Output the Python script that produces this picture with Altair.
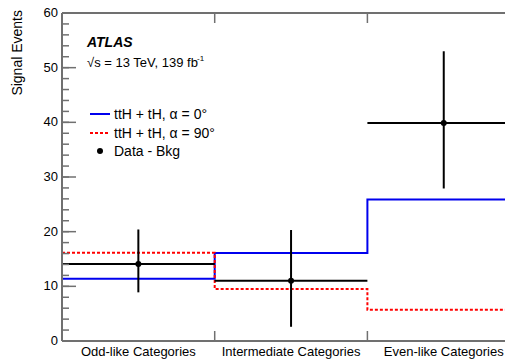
import altair as alt
import pandas as pd

# ---------------- data ----------------
categories = ["Odd-like Categories", "Intermediate Categories", "Even-like Categories"]
alpha0 = [11.4, 16.1, 25.9]      # ttH + tH, alpha = 0 deg
alpha90 = [16.15, 9.5, 5.7]      # ttH + tH, alpha = 90 deg
data_val = [14.1, 11.0, 39.9]    # Data - Bkg
data_lo = [8.9, 2.6, 27.9]
data_hi = [20.4, 20.3, 53.0]
y_ticks = list(range(0, 61, 10))

# ---------------- layout / style ----------------
W, H = 443, 328
BIN_PX = 152.7
XMAX = W / BIN_PX
FRAME = "#707070"
FONT = "Liberation Sans"

n = len(categories)
edges = list(range(n + 1))

step0 = pd.DataFrame({"edge": edges, "value": alpha0 + [alpha0[-1]]})
step90 = pd.DataFrame({"edge": edges, "value": alpha90 + [alpha90[-1]]})
pts = pd.DataFrame({
    "cat": categories,
    "left": list(range(n)),
    "right": [i + 1 for i in range(n)],
    "center": [i + 0.5 for i in range(n)],
    "val": data_val,
    "lo": data_lo,
    "hi": data_hi,
})
inner_edges = pd.DataFrame({"edge": edges[1:-1]})
minor = pd.DataFrame({"v": list(range(0, 61, 2))})
major = pd.DataFrame({"v": y_ticks, "lab": [str(v) for v in y_ticks]})
one = pd.DataFrame({"a": [0]})

xs = alt.Scale(domain=[0, XMAX], nice=False, zero=False)
ys = alt.Scale(domain=[0, 60], nice=False, zero=False)


def X(f):
    return alt.X(f, scale=xs, axis=None)


def Y(f):
    return alt.Y(f, scale=ys, axis=None)


blue = alt.Chart(step0).mark_line(interpolate="step-after", color="#0000ee",
                                  strokeWidth=2, clip=True).encode(
    x=X("edge:Q"), y=Y("value:Q"))
red = alt.Chart(step90).mark_line(interpolate="step-after", color="#ff0000",
                                  strokeWidth=2, strokeDash=[3, 2], clip=True).encode(
    x=X("edge:Q"), y=Y("value:Q"))
hbar = alt.Chart(pts).mark_rule(color="black", strokeWidth=2, clip=True).encode(
    x=X("left:Q"), x2="right:Q", y=Y("val:Q"))
vbar = alt.Chart(pts).mark_rule(color="black", strokeWidth=2, clip=True).encode(
    x=X("center:Q"), y=Y("lo:Q"), y2="hi:Q")
dots = alt.Chart(pts).mark_point(filled=True, color="black", size=36, opacity=1).encode(
    x=X("center:Q"), y=Y("val:Q"))

# frame: axis lines, inward ticks, labels, title
left_line = alt.Chart(one).mark_rule(color=FRAME, strokeWidth=2).encode(
    x=alt.value(0), y=alt.value(0), y2=alt.value(H))
bottom_line = alt.Chart(one).mark_rule(color=FRAME, strokeWidth=2).encode(
    x=alt.value(0), x2=alt.value(W), y=alt.value(H))
top_line = alt.Chart(one).mark_rule(color=FRAME, strokeWidth=2).encode(
    x=alt.value(0), x2=alt.value(W), y=alt.value(0))
tick_major_l = alt.Chart(major).mark_rule(color=FRAME, strokeWidth=1.5).encode(
    y=Y("v:Q"), x=alt.value(0), x2=alt.value(14))
tick_minor_l = alt.Chart(minor).mark_rule(color=FRAME, strokeWidth=1.5).encode(
    y=Y("v:Q"), x=alt.value(0), x2=alt.value(7))
tick_top = alt.Chart(inner_edges).mark_rule(color=FRAME, strokeWidth=1.5).encode(
    x=X("edge:Q"), y=alt.value(0), y2=alt.value(10))
tick_bot = alt.Chart(inner_edges).mark_rule(color=FRAME, strokeWidth=1.5).encode(
    x=X("edge:Q"), y=alt.value(H - 10), y2=alt.value(H))
y_labels = alt.Chart(major).mark_text(align="right", baseline="middle", fontSize=13,
                                      font=FONT, color="black").encode(
    y=Y("v:Q"), x=alt.value(-4), text="lab:N")
x_labels = alt.Chart(pts).mark_text(align="center", baseline="alphabetic", fontSize=13,
                                    font=FONT, color="black").encode(
    x=X("center:Q"), y=alt.value(H + 15), text="cat:N")
y_title = alt.Chart(pd.DataFrame({"t": ["Signal Events"]})).mark_text(
    align="right", baseline="alphabetic", angle=270, fontSize=14, font=FONT,
    color="black").encode(x=alt.value(-40), y=alt.value(-3), text="t:N")


# annotations
def txt(s, x, y, size, **kw):
    return alt.Chart(pd.DataFrame({"t": [s]})).mark_text(
        align="left", baseline="alphabetic", fontSize=size, font=FONT,
        color="black", **kw).encode(x=alt.value(x), y=alt.value(y), text="t:N")


atlas = txt("ATLAS", 25, 34, 14, fontStyle="italic", fontWeight="bold")
energy = txt("\u221as = 13 TeV, 139 fb", 25, 54, 13)
sup = txt("-1", 135, 48, 8)

leg_blue = alt.Chart(one).mark_rule(color="#0000ee", strokeWidth=2).encode(
    x=alt.value(28), x2=alt.value(48), y=alt.value(101))
leg_red = alt.Chart(one).mark_rule(color="#ff0000", strokeWidth=2,
                                   strokeDash=[3, 2]).encode(
    x=alt.value(28), x2=alt.value(48), y=alt.value(120))
leg_dot = alt.Chart(one).mark_point(filled=True, color="black",
                                    size=36, opacity=1).encode(
    x=alt.value(38), y=alt.value(138))
leg_t1 = txt("ttH + tH, \u03b1 = 0\u00b0", 52, 106, 14)
leg_t2 = txt("ttH + tH, \u03b1 = 90\u00b0", 52, 125, 14)
leg_t3 = txt("Data - Bkg", 52, 143, 14)

chart = alt.layer(
    blue, red, hbar, vbar, dots,
    left_line, bottom_line, top_line, tick_major_l, tick_minor_l, tick_top, tick_bot,
    y_labels, x_labels, y_title,
    atlas, energy, sup, leg_blue, leg_red, leg_dot, leg_t1, leg_t2, leg_t3,
).properties(
    width=W, height=H,
    autosize=alt.AutoSizeParams(type="none"),
    padding={"left": 54, "top": 5, "right": 0, "bottom": 18},
    background="white",
).configure_view(stroke=None)

chart.save("out.html", embed_options={"renderer": "svg", "actions": False})
